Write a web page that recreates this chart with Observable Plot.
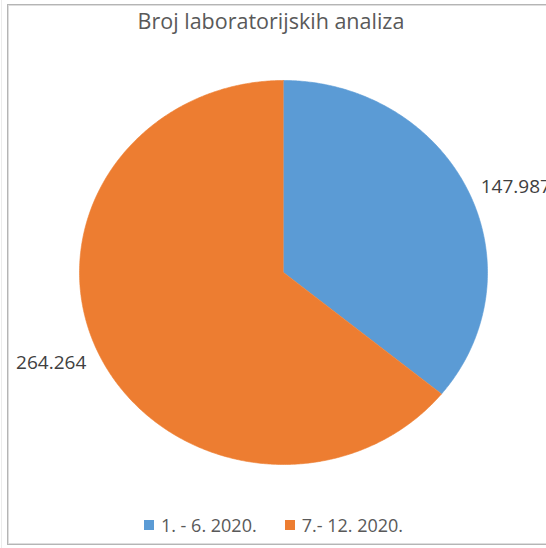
<!DOCTYPE html>
<html>
<head>
<meta charset="utf-8">
<script src="https://cdn.jsdelivr.net/npm/d3@7"></script>
<script src="https://cdn.jsdelivr.net/npm/@observablehq/plot@0.6"></script>
<style>
  html, body { margin: 0; padding: 0; background: #fff; overflow: hidden; }
  #wrap { position: relative; width: 546px; height: 548px; overflow: hidden; font-family: "Open Sans", sans-serif; }
  #faint { position: absolute; left: 1px; top: 0; width: 1px; height: 548px; background: #ececec; }
  #frame { position: absolute; left: 7px; top: 4px; width: 560px; height: 539px; border: 1px solid #b5b5b5; box-shadow: inset 1px 1px 0 #dedede, inset -1px -1px 0 #dedede; }
  #chart { position: absolute; left: 0; top: 0; }
  #title { position: absolute; left: 0; width: 542px; top: 6px; text-align: center; font-size: 21.5px; color: #595959; line-height: 30px; }
  #legend { position: absolute; left: 0; width: 546px; top: 512px; display: flex; justify-content: center; gap: 28px; font-size: 18px; line-height: 26px; color: #595959; padding-left: 1px; box-sizing: border-box; }
  .item { display: flex; align-items: center; gap: 7px; }
  .sw { width: 10px; height: 10px; display: inline-block; }
</style>
</head>
<body>
<div id="wrap">
  <div id="faint"></div>
  <div id="frame"></div>
  <div id="chart"></div>
  <div id="title">Broj laboratorijskih analiza</div>
  <div id="legend"></div>
</div>
<script>
const periods = ["1. - 6. 2020.", "7.- 12. 2020."];
const counts = [147987, 264264];
const countLabels = ["147.987", "264.264"];
const colors = ["#5B9BD5", "#ED7D31"];

const total = d3.sum(counts);
let acc = 0;
const slices = counts.map((v, i) => {
  const a0 = acc / total * 2 * Math.PI;
  acc += v;
  const a1 = acc / total * 2 * Math.PI;
  const pts = [{x: 0, y: 0}];
  const n = Math.max(2, Math.ceil((a1 - a0) / (Math.PI / 360)));
  for (let k = 0; k <= n; k++) {
    const a = a0 + (a1 - a0) * k / n;
    pts.push({x: Math.sin(a), y: Math.cos(a)});
  }
  const mid = (a0 + a1) / 2;
  const r = 1.07;
  return {
    pts, color: colors[i],
    label: {x: Math.sin(mid) * r, y: Math.cos(mid) * r, text: countLabels[i]},
    anchor: Math.sin(mid) >= 0 ? "start" : "end"
  };
});

const cx = 283, cy = 272, rx = 204, ry = 192, W = 546, H = 548;
const marks = [];
for (const s of slices) {
  marks.push(Plot.line(s.pts, {x: "x", y: "y", fill: s.color, stroke: s.color, strokeWidth: 0.6, curve: "linear"}));
}
for (const s of slices) {
  marks.push(Plot.text([s.label], {x: "x", y: "y", text: "text", textAnchor: s.anchor, fontSize: 19, fill: "#404040", dy: 2}));
}

const svg = Plot.plot({
  width: W, height: H,
  margin: 0,
  x: {domain: [-cx / rx, (W - cx) / rx], range: [0, W], axis: null},
  y: {domain: [(cy - H) / ry, cy / ry], range: [H, 0], axis: null},
  style: {fontFamily: "'Open Sans', sans-serif", background: "transparent"},
  marks
});
document.getElementById("chart").appendChild(svg);

const legend = document.getElementById("legend");
periods.forEach((p, i) => {
  const it = document.createElement("div");
  it.className = "item";
  const sw = document.createElement("span");
  sw.className = "sw";
  sw.style.background = colors[i];
  const t = document.createElement("span");
  t.textContent = p;
  it.appendChild(sw); it.appendChild(t);
  legend.appendChild(it);
});
</script>
</body>
</html>
